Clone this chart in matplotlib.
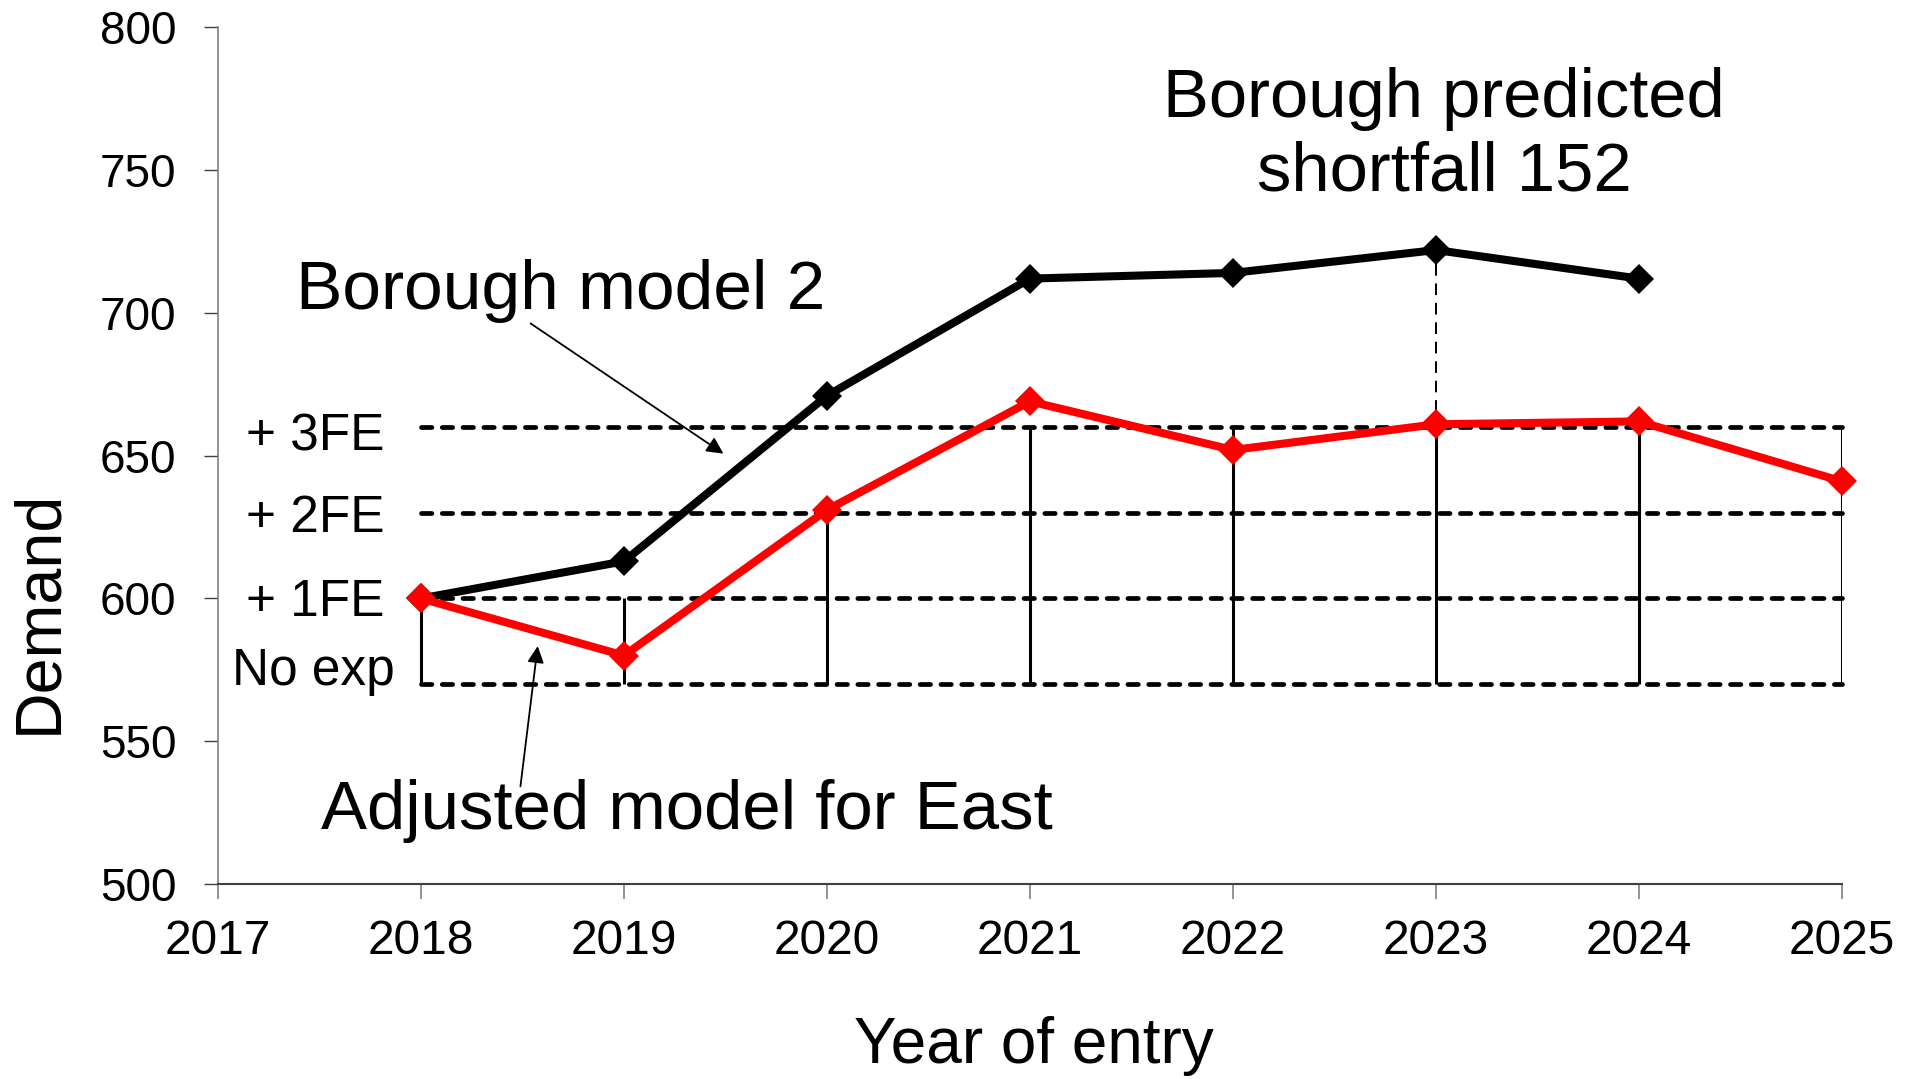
import matplotlib
matplotlib.use("Agg")
import matplotlib.pyplot as plt

plt.rcParams['font.family'] = ['Liberation Sans', 'DejaVu Sans']

years = [2018, 2019, 2020, 2021, 2022, 2023, 2024, 2025]
borough_years = [2018, 2019, 2020, 2021, 2022, 2023, 2024]
borough_model2 = [600, 613, 671, 712, 714, 722, 712]
adjusted_east = [600, 580, 631, 669, 652, 661, 662, 641]
capacity_levels = [570, 600, 630, 660]
capacity_labels = ['No exp', '+ 1FE', '+ 2FE', '+ 3FE']
capacity_by_year = [600, 600, 630, 660, 660, 660, 660, 660]
shortfall_year = 2023
xticks = [2017, 2018, 2019, 2020, 2021, 2022, 2023, 2024, 2025]
yticks = [500, 550, 600, 650, 700, 750, 800]

fig = plt.figure(figsize=(19.12, 10.79), dpi=100)
ax = fig.add_axes([0.114, 0.1807, 0.8494, 0.794])
ax.set_xlim(2017, 2025)
ax.set_ylim(500, 800)

# capacity dashed lines
for lvl in capacity_levels:
    ax.plot([years[0], years[-1]], [lvl, lvl], color='black', lw=3.4,
            linestyle=(0, (2.2, 2.2)), dash_capstyle='round', zorder=2, clip_on=False)

# vertical solid capacity bars
for yr, cap in zip(years, capacity_by_year):
    ax.plot([yr, yr], [capacity_levels[0], cap], color='black', lw=2.2, zorder=2,
            solid_capstyle='butt')

# dashed vertical at shortfall year
bi = borough_years.index(shortfall_year)
ax.plot([shortfall_year, shortfall_year], [capacity_levels[0], borough_model2[bi]],
        color='black', lw=1.4, linestyle=(0, (6, 4)), zorder=2)

ax.plot(borough_years, borough_model2, color='black', lw=5.8, marker='D', ms=15,
        mew=0, zorder=4, clip_on=False)
ax.plot(years, adjusted_east, color='#ff0000', lw=5.8, marker='D', ms=15,
        mew=0, zorder=5, clip_on=False)

# capacity labels
label_y = [574.3, 598.6, 628, 656.7]
for lab, yv in zip(capacity_labels, label_y):
    ax.text(2017.87 if lab == 'No exp' else 2017.82, yv, lab, ha='right', va='center',
            fontsize=37)

ax.text(2018.69, 707.8, 'Borough model 2', ha='center', va='center', fontsize=50)
ax.annotate('', xy=(2019.49, 650.7), xytext=(2018.54, 696.3),
            arrowprops=dict(arrowstyle='-|>', color='black', lw=1.3,
                            mutation_scale=25, shrinkA=0, shrinkB=0))
ax.text(2019.31, 525.7, 'Adjusted model for East', ha='center', va='center', fontsize=49.7)
ax.annotate('', xy=(2018.575, 583.3), xytext=(2018.49, 534.2),
            arrowprops=dict(arrowstyle='-|>', color='black', lw=1.3,
                            mutation_scale=25, shrinkA=0, shrinkB=0))
ax.text(2023.04, 762, 'Borough predicted\nshortfall 152', ha='center', va='center',
        fontsize=49.5, linespacing=1.2)

ax.set_xticks(xticks)
ax.set_yticks(yticks)
ax.tick_params(axis='y', labelsize=33, length=10, width=1, color='#404040', pad=20)
ax.tick_params(axis='x', labelsize=34.5, length=11, width=1.2, color='#808080', pad=14)
ax.spines['top'].set_visible(False)
ax.spines['right'].set_visible(False)
ax.spines['left'].set_color('#808080')
ax.spines['bottom'].set_color('#404040')
ax.spines['left'].set_linewidth(1.2)
ax.spines['bottom'].set_linewidth(1.5)

ax.set_ylabel('Demand', fontsize=46.5)
ax.yaxis.set_label_coords(-0.11, 0.3175)
ax.set_xlabel('Year of entry', fontsize=46)
ax.xaxis.set_label_coords(0.5025, -0.189)
ax.xaxis.label.set_va('center')
ax.yaxis.label.set_va('center')

fig.savefig('out.png', dpi=100)
